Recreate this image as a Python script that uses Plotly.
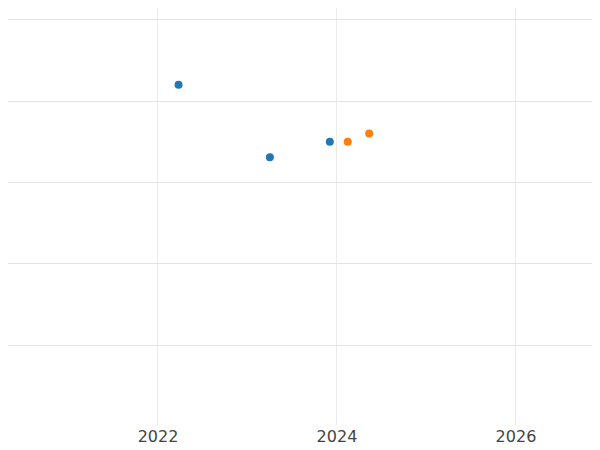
import plotly.graph_objects as go

# series A (blue) and B (orange): x = year, y = value
a_x = [2022.23, 2023.25, 2023.92]
a_y = [3.2, 2.31, 2.5]
b_x = [2024.12, 2024.36]
b_y = [2.5, 2.6]
x_ticks = [2022, 2024, 2026]

fig = go.Figure()
fig.add_trace(go.Scatter(x=a_x, y=a_y, mode='markers',
                         marker=dict(color='#1f77b4', size=8)))
fig.add_trace(go.Scatter(x=b_x, y=b_y, mode='markers',
                         marker=dict(color='#ff7f0e', size=8)))

fig.update_layout(
    width=592, height=442,
    margin=dict(l=0, r=0, t=0, b=25),
    plot_bgcolor='white', paper_bgcolor='white',
    showlegend=False,
    font=dict(family='DejaVu Sans', size=16, color='#444'),
    xaxis=dict(range=[2020.324, 2026.939], tickvals=x_ticks,
               ticktext=[str(t) for t in x_ticks],
               showgrid=True, gridcolor='#ebebeb', zeroline=False),
    yaxis=dict(range=[-0.984, 4.145], dtick=1, showticklabels=False,
               showgrid=True, gridcolor='#e3e3e3', zeroline=False),
)

fig.write_html("out.html")
